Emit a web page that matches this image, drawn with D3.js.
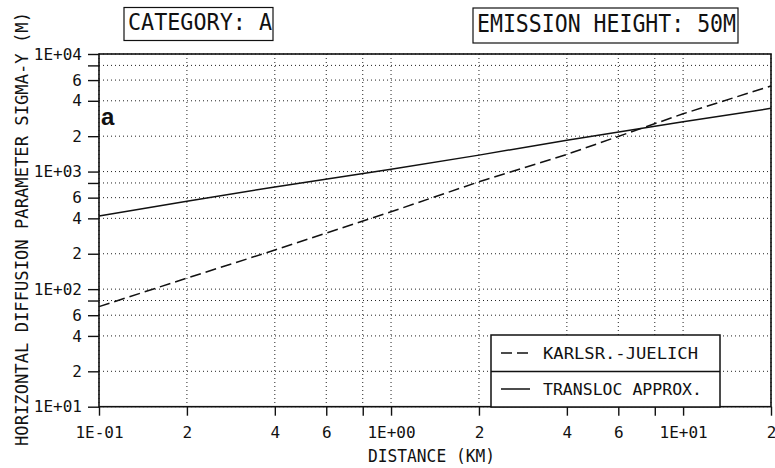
<!DOCTYPE html>
<html>
<head>
<meta charset="utf-8">
<script src="https://cdn.jsdelivr.net/npm/d3@7"></script>
<style>
  html, body { margin: 0; padding: 0; background: #fff; }
  svg { display: block; }
  .mono { font-family: "DejaVu Sans Mono", "Liberation Mono", monospace; fill: #111; }
</style>
</head>
<body>
<svg id="chart" width="775" height="468"></svg>
<script>
// Distance (km) at which each curve is sampled
const distance = [0.1, 0.2, 0.4, 1, 2, 4, 10, 20];
// Horizontal diffusion parameter sigma-y (m)
const karlsruheJuelich = [71, 124, 215, 455, 819, 1400, 3100, 5350];
const translocApprox = [418, 560, 740, 1045, 1380, 1850, 2650, 3450];

const seriesNames = ["KARLSR.-JUELICH", "TRANSLOC APPROX."];

// Axis ticks and their labels (blank = unlabeled minor tick)
const xTicks = [0.1, 0.2, 0.4, 0.6, 0.8, 1, 2, 4, 6, 8, 10, 20];
const xTickLabels = ["1E-01", "2", "4", "6", "", "1E+00", "2", "4", "6", "", "1E+01", "2"];
const yTicks = [10, 20, 40, 60, 80, 100, 200, 400, 600, 800, 1000, 2000, 4000, 6000, 8000, 10000];
const yTickLabels = ["1E+01", "2", "4", "6", "", "1E+02", "2", "4", "6", "", "1E+03", "2", "4", "6", "", "1E+04"];

const svg = d3.select("#chart");
const plotL = 99, plotR = 771, plotT = 54, plotB = 406.7;

const x = d3.scaleLog().domain([0.1, 20]).range([plotL, plotR]);
const y = d3.scaleLog().domain([10, 10000]).range([plotB, plotT]);

// Dotted grid
const grid = svg.append("g")
  .attr("stroke", "#222").attr("stroke-width", 1).attr("stroke-dasharray", "1,3");
grid.selectAll("line.gx").data(xTicks).join("line")
  .attr("x1", d => x(d)).attr("x2", d => x(d))
  .attr("y1", plotT).attr("y2", plotB);
grid.selectAll("line.gy").data(yTicks).join("line")
  .attr("x1", plotL).attr("x2", plotR)
  .attr("y1", d => y(d)).attr("y2", d => y(d));

// Axes with outward ticks
const xLabel = d => xTickLabels[xTicks.indexOf(d)];
const yLabel = d => yTickLabels[yTicks.indexOf(d)];

const gx = svg.append("g").attr("transform", `translate(0,${plotB})`)
  .call(d3.axisBottom(x).tickValues(xTicks).tickFormat(xLabel)
    .tickSize(9).tickSizeOuter(0).tickPadding(11));
const gy = svg.append("g").attr("transform", `translate(${plotL},0)`)
  .call(d3.axisLeft(y).tickValues(yTicks).tickFormat(yLabel)
    .tickSize(11).tickSizeOuter(0).tickPadding(6));
[gx, gy].forEach(g => {
  g.select(".domain").remove();
  g.selectAll(".tick line").attr("stroke", "#111").attr("stroke-width", 1.4);
  g.selectAll(".tick text").attr("class", "mono")
    .attr("font-size", 16).attr("fill", "#111");
});

// Curves
const line = d3.line().x(d => x(d[0])).y(d => y(d[1]));
const curves = [
  { values: karlsruheJuelich, dash: "11,5" },
  { values: translocApprox, dash: null }
];
svg.selectAll("path.curve").data(curves).join("path")
  .attr("class", "curve")
  .attr("d", c => line(distance.map((d, i) => [d, c.values[i]])))
  .attr("fill", "none").attr("stroke", "#111").attr("stroke-width", 1.5)
  .attr("stroke-dasharray", c => c.dash);

// Plot frame
svg.append("rect")
  .attr("x", plotL).attr("y", plotT)
  .attr("width", plotR - plotL).attr("height", plotB - plotT)
  .attr("fill", "none").attr("stroke", "#111").attr("stroke-width", 1.6);

// Legend
const lg = svg.append("g");
lg.append("rect").attr("x", 491).attr("y", 335).attr("width", 229).attr("height", 72)
  .attr("fill", "#fff").attr("stroke", "#111").attr("stroke-width", 1.5);
lg.append("line").attr("x1", 491).attr("x2", 720).attr("y1", 371.5).attr("y2", 371.5)
  .attr("stroke", "#111").attr("stroke-width", 1.5);
const rows = [{ y: 353, base: 358.5, len: 155 }, { y: 389, base: 395, len: 159 }];
rows.forEach((r, i) => {
  lg.append("line").attr("x1", 501).attr("x2", 530).attr("y1", r.y).attr("y2", r.y)
    .attr("stroke", "#111").attr("stroke-width", 1.5)
    .attr("stroke-dasharray", curves[i].dash);
  lg.append("text").attr("class", "mono").attr("x", 543).attr("y", r.base)
    .attr("font-size", 16.5).attr("textLength", r.len).attr("lengthAdjust", "spacingAndGlyphs")
    .text(seriesNames[i]);
});

// Header boxes
const boxes = [
  { x: 124, y: 7.5, w: 149, h: 33, tx: 128, ty: 30, len: 144, fs: 23, text: "CATEGORY: A" },
  { x: 473, y: 8, w: 265, h: 35, tx: 477, ty: 31.5, len: 259, fs: 24, text: "EMISSION HEIGHT: 50M" }
];
boxes.forEach(b => {
  svg.append("rect").attr("x", b.x).attr("y", b.y).attr("width", b.w).attr("height", b.h)
    .attr("fill", "none").attr("stroke", "#111").attr("stroke-width", 1.2);
  svg.append("text").attr("class", "mono").attr("x", b.tx).attr("y", b.ty)
    .attr("font-size", b.fs).attr("textLength", b.len).attr("lengthAdjust", "spacingAndGlyphs")
    .text(b.text);
});

// Axis titles
svg.append("text").attr("class", "mono")
  .attr("transform", "translate(28,446) rotate(-90)")
  .attr("font-size", 17).attr("textLength", 434).attr("lengthAdjust", "spacingAndGlyphs")
  .text("HORIZONTAL DIFFUSION PARAMETER SIGMA-Y (M)");
svg.append("text").attr("class", "mono")
  .attr("x", 368).attr("y", 461.5)
  .attr("font-size", 18).attr("textLength", 127).attr("lengthAdjust", "spacingAndGlyphs")
  .text("DISTANCE (KM)");

// Panel letter
svg.append("text").attr("x", 101).attr("y", 125)
  .attr("font-family", "Liberation Sans, Arial, sans-serif").attr("font-weight", "bold")
  .attr("font-size", 24).attr("fill", "#111").text("a");
</script>
</body>
</html>
